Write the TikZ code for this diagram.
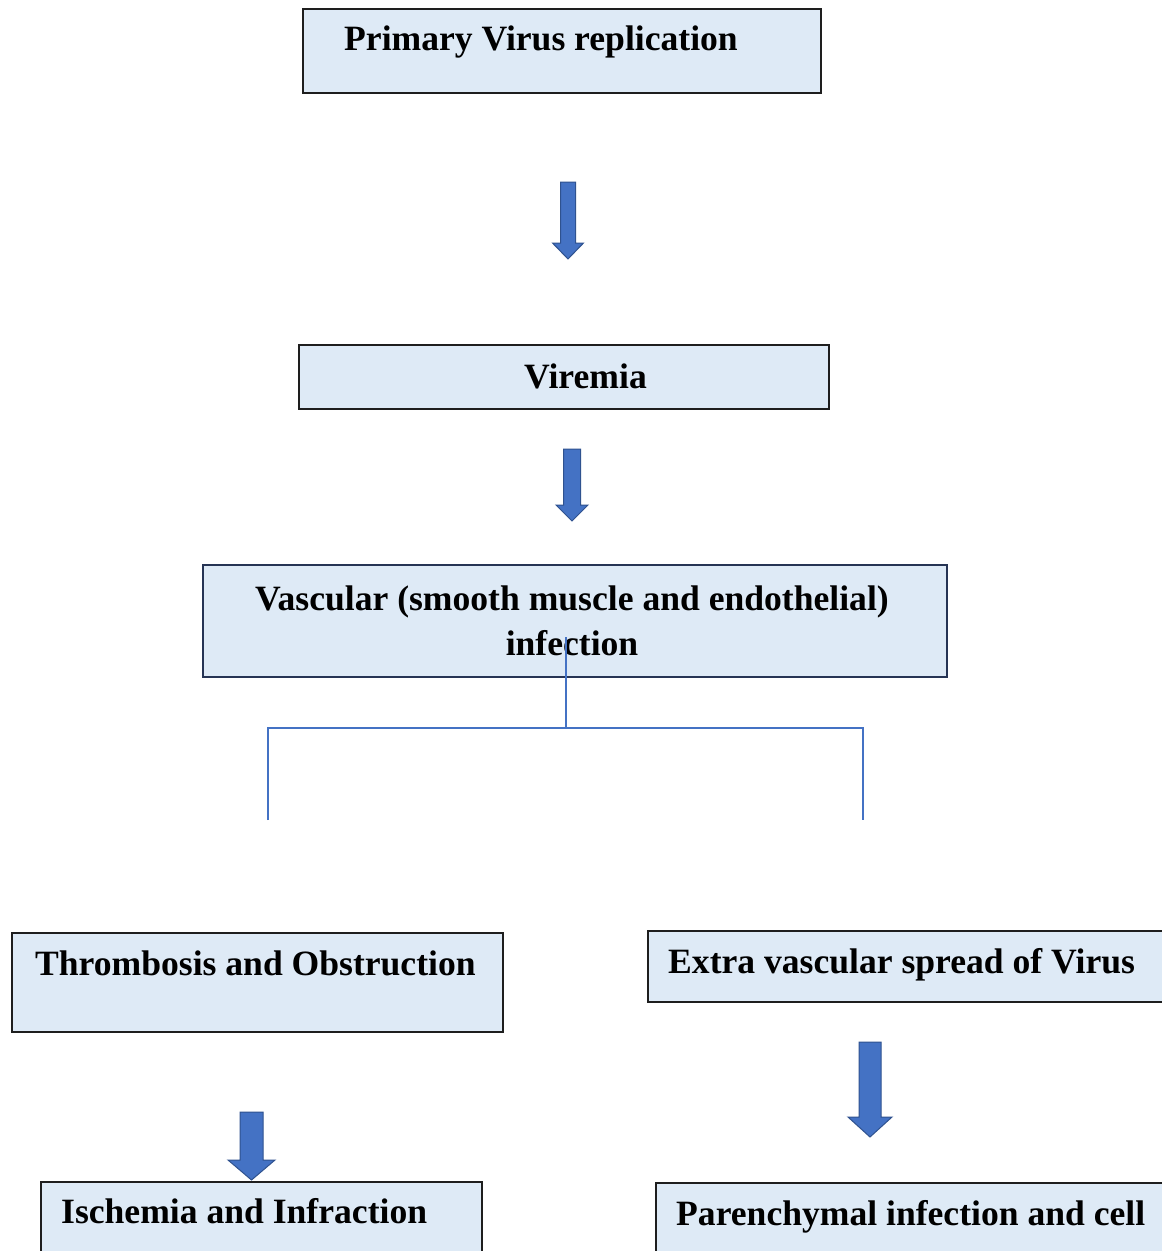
\documentclass[tikz,border=0pt]{standalone}
\usepackage{fontspec}
\setmainfont{Liberation Serif}
\definecolor{boxfill}{RGB}{222,234,246}
\definecolor{boxline}{RGB}{30,30,30}
\definecolor{boxnavy}{RGB}{38,52,84}
\definecolor{arrfill}{RGB}{68,114,196}
\definecolor{arrline}{RGB}{47,82,143}
\definecolor{conn}{RGB}{68,114,196}
\newcommand{\blkarrow}[6]{% cx, top, headstart, tip, shafthalf, headhalf
  \filldraw[blockarrow] (#1-#5,#2) -- (#1+#5,#2) -- (#1+#5,#3) -- (#1+#6,#3) -- (#1,#4) -- (#1-#6,#3) -- (#1-#5,#3) -- cycle;}
\begin{document}
\begin{tikzpicture}[x=1pt,y=-1pt,
  box/.style={draw=boxline, line width=1.8pt, fill=boxfill, rectangle, anchor=north west, inner sep=0pt},
  lbl/.style={font=\bfseries\fontsize{35.6}{42}\selectfont, inner sep=0pt, text=black},
  blockarrow/.style={fill=arrfill, draw=arrline, line width=1pt, line join=miter},
  connector/.style={draw=conn, line width=2pt}]
\clip (0,0) rectangle (1162,1251);
\fill[white] (0,0) rectangle (1162,1251);
% boxes
\node[box, minimum width=518pt, minimum height=84pt] (b1) at (302,8) {};
\node[box, minimum width=530pt, minimum height=64pt] (b2) at (298,344) {};
\node[box, draw=boxnavy, minimum width=744pt, minimum height=112pt] (b3) at (202,564) {};
\node[box, minimum width=491pt, minimum height=99pt] (b4) at (11,932) {};
\node[box, minimum width=530pt, minimum height=71pt] (b5) at (647,930) {};
\node[box, minimum width=441pt, minimum height=100pt] (b6) at (40,1181) {};
\node[box, minimum width=530pt, minimum height=100pt] (b7) at (655,1182) {};
% texts
\node[lbl, anchor=base west] (t1) at (344,50) {Primary Virus replication};
\node[lbl, anchor=base west] (t2) at (524,388) {Viremia};
\node[lbl, anchor=base] (t3a) at (572,610) {Vascular (smooth muscle and endothelial)};
\node[lbl, anchor=base] (t3b) at (572,655) {infection};
\node[lbl, anchor=base west] (t4) at (35,975) {Thrombosis and Obstruction};
\node[lbl, anchor=base west] (t5) at (668,973) {Extra vascular spread of Virus};
\node[lbl, anchor=base west] (t6) at (61,1223) {Ischemia and Infraction};
\node[lbl, anchor=base west] (t7) at (676,1225) {Parenchymal infection and cell};
% block arrows
\blkarrow{568}{182}{243}{259}{7.5}{15.5}
\blkarrow{572}{449}{505}{521}{8.5}{16}
\blkarrow{251.5}{1112}{1160}{1180}{11.5}{23.5}
\blkarrow{870}{1042}{1117}{1137}{11}{22}
% branch connector
\coordinate (c0) at (566,637);
\coordinate (cj) at (566,728);
\coordinate (cl) at (268,820);
\coordinate (cr) at (863,820);
\draw[connector] (c0) -- (cj);
\draw[connector] (cl) |- (cj) -| (cr);
\end{tikzpicture}
\end{document}
